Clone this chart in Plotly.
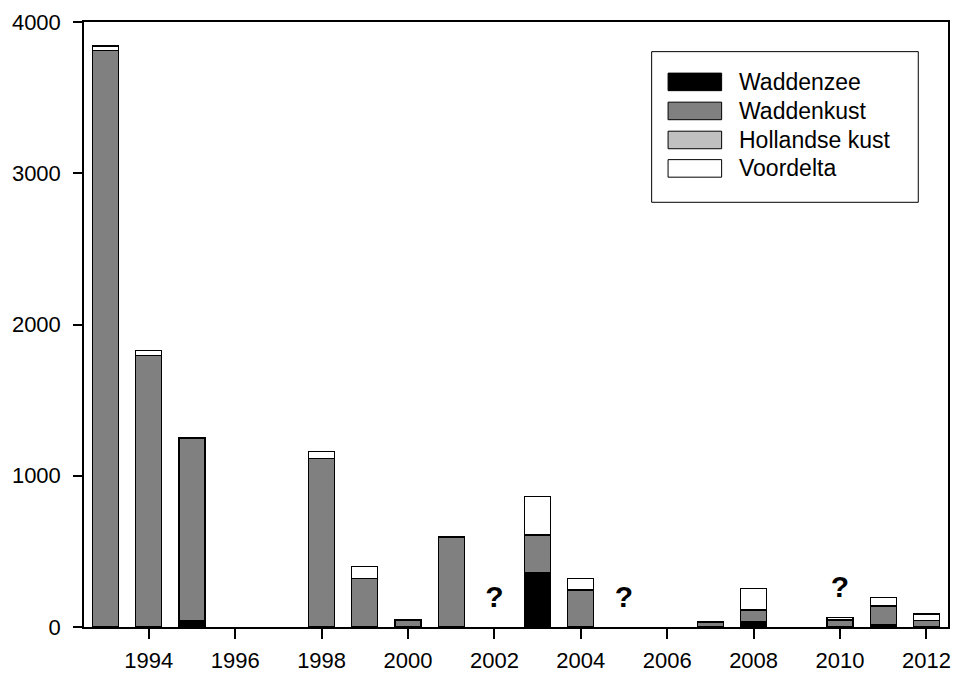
import plotly.graph_objects as go

years = [1993, 1994, 1995, 1996, 1997, 1998, 1999, 2000, 2001, 2002, 2003, 2004,
         2005, 2006, 2007, 2008, 2009, 2010, 2011, 2012]
waddenzee = [None, None, 45, None, None, None, None, None, None, None, 357, None,
             None, None, None, 35, None, None, 18, None]
waddenkust = [3812, 1796, 1205, None, None, 1115, 322, 46, 590, None, 251, 245,
              None, None, 30, 77, None, 46, 121, 44]
hollandse_kust = [None] * 20
voordelta = [30, 30, None, None, None, 45, 80, None, 8, None, 253, 77,
             None, None, 8, 144, None, 18, 57, 42]

series_names = ["Waddenzee", "Waddenkust", "Hollandse kust", "Voordelta"]
series_values = [waddenzee, waddenkust, hollandse_kust, voordelta]
series_colors = ["#000000", "#808080", "#c0c0c0", "#ffffff"]

unknown_years = [2002, 2005, 2010]
unknown_y = [180, 180, 245]

x_ticks = [1994, 1996, 1998, 2000, 2002, 2004, 2006, 2008, 2010, 2012]
y_ticks = [0, 1000, 2000, 3000, 4000]

FONT = "Liberation Sans, Arial, sans-serif"

fig = go.Figure()
for name, vals, col in zip(series_names, series_values, series_colors):
    fig.add_trace(go.Bar(
        x=years, y=vals, name=name, width=0.6,
        marker=dict(color=col, line=dict(color="black", width=1.3)),
        showlegend=False,
    ))

fig.add_trace(go.Scatter(
    x=unknown_years, y=unknown_y, mode="text", text=["?"] * len(unknown_years),
    textfont=dict(family=FONT, size=30, color="black", weight="bold"),
    showlegend=False, hoverinfo="skip",
))

# custom legend
shapes = []
annotations = []
shapes.append(dict(type="rect", xref="paper", yref="paper",
                   x0=0.657, x1=0.9656, y0=0.702, y1=0.951,
                   line=dict(color="black", width=1), fillcolor="white", layer="above"))
row_y = [0.901, 0.853, 0.805, 0.758]
for name, col, yc in zip(series_names, series_colors, row_y):
    shapes.append(dict(type="rect", xref="paper", yref="paper",
                       x0=0.676, x1=0.738, y0=yc - 0.0145, y1=yc + 0.0145,
                       line=dict(color="black", width=1), fillcolor=col, layer="above"))
    annotations.append(dict(xref="paper", yref="paper", x=0.756, y=yc,
                            text=name, showarrow=False, xanchor="left", yanchor="middle",
                            font=dict(family=FONT, size=23, color="black")))

fig.update_layout(
    width=955, height=673,
    margin=dict(l=84, r=7, t=22, b=46, autoexpand=False),
    barmode="stack",
    plot_bgcolor="white", paper_bgcolor="white",
    font=dict(family=FONT, size=22, color="black"),
    shapes=shapes, annotations=annotations,
    bargap=0.4,
)
fig.update_xaxes(
    range=[1992.5, 2012.5], tickvals=x_ticks, ticktext=[str(t) for t in x_ticks],
    showgrid=False, zeroline=False, showline=True, linecolor="black", linewidth=1.5,
    mirror=True, ticks="outside", ticklen=10, tickcolor="black", tickwidth=1.5,
    ticklabelstandoff=3, automargin=False,
)
fig.update_yaxes(
    range=[0, 4000], tickvals=y_ticks, ticktext=[str(t) for t in y_ticks],
    showgrid=False, zeroline=False, showline=True, linecolor="black", linewidth=1.5,
    mirror=True, ticks="outside", ticklen=9, tickcolor="black", tickwidth=1.5,
    ticklabelstandoff=8, automargin=False,
)

fig.write_html(
    "out.html",
    config={"displayModeBar": False},
    post_script="document.body.style.margin='0';document.body.style.overflow='hidden';",
)
